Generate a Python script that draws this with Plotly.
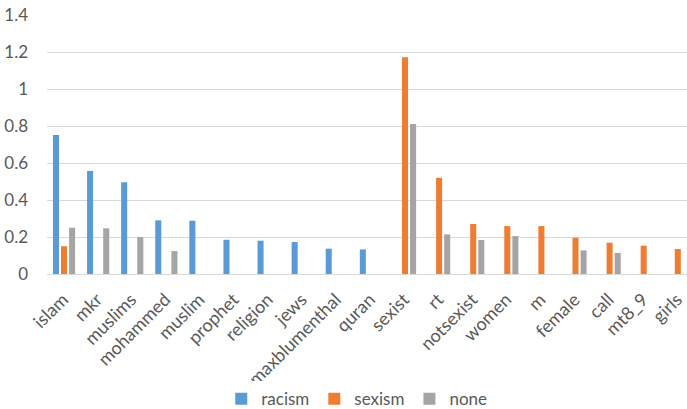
import plotly.graph_objects as go

categories = ["islam", "mkr", "muslims", "mohammed", "muslim", "prophet", "religion",
              "jews", "maxblumenthal", "quran", "sexist", "rt", "notsexist", "women",
              "m", "female", "call", "mt8_9", "girls"]
racism = [0.751, 0.557, 0.496, 0.29, 0.288, 0.185, 0.18, 0.173, 0.137, 0.133,
          None, None, None, None, None, None, None, None, None]
sexism = [0.15, None, None, None, None, None, None, None, None, None,
          1.171, 0.52, 0.27, 0.259, 0.259, 0.196, 0.169, 0.153, 0.135]
none_vals = [0.25, 0.247, 0.2, 0.124, None, None, None, None, None, None,
             0.811, 0.214, 0.184, 0.205, None, 0.128, 0.114, None, None]

series = [("racism", racism, "#5B9BD5"),
          ("sexism", sexism, "#ED7D31"),
          ("none", none_vals, "#A5A5A5")]

font_family = "Lato, 'Open Sans', sans-serif"
text_color = "#595959"

fig = go.Figure()
for name, vals, color in series:
    fig.add_trace(go.Bar(x=categories, y=vals, name=name,
                         marker=dict(color=color, line=dict(width=0))))

fig.update_layout(
    width=687, height=409,
    margin=dict(l=47, r=0, t=15, b=135, autoexpand=False),
    paper_bgcolor="white", plot_bgcolor="white",
    barmode="group", bargap=0.29, bargroupgap=0.25,
    font=dict(family=font_family, size=17, color=text_color),
    legend=dict(orientation="h", x=0.484, xanchor="center", y=-0.483, yanchor="middle",
                font=dict(size=17, color=text_color), itemwidth=30),
    xaxis=dict(range=[-0.5, 18.27], tickangle=-45, showline=True, linecolor="#D9D9D9",
               linewidth=1, ticks="", showgrid=False, automargin=False,
               ticklabelstandoff=7, ticklabelshift=-1,
               tickfont=dict(size=18, color=text_color)),
    yaxis=dict(range=[0, 1.4], tickvals=[0, 0.2, 0.4, 0.6, 0.8, 1, 1.2, 1.4],
               ticktext=["0", "0.2", "0.4", "0.6", "0.8", "1", "1.2", "1.4"],
               showgrid=True, gridcolor="#D9D9D9", gridwidth=1, zeroline=False,
               automargin=False, ticklabelstandoff=18,
               tickfont=dict(size=17, color=text_color)),
)

fig.write_html("out.html")
